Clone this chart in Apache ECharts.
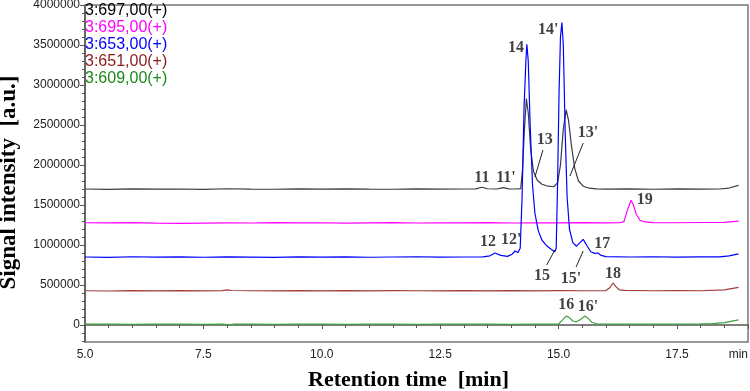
<!DOCTYPE html>
<html>
<head>
<meta charset="utf-8">
<script src="https://cdn.jsdelivr.net/npm/echarts@6/dist/echarts.min.js"></script>
<style>
html, body { margin: 0; padding: 0; background: #fff; }
#chart { width: 750px; height: 391px; }
</style>
</head>
<body>
<div id="chart"></div>
<script>
// trace names (m/z channels)
var traceNames = ['3:697,00(+)', '3:695,00(+)', '3:653,00(+)', '3:651,00(+)', '3:609,00(+)'];

// [retention time (min), signal]
var trace697 = [
  [5.0,1700000],[5.5,1695000],[6.0,1702000],[6.5,1698000],[7.0,1700000],[7.5,1696000],[8.0,1703000],
  [8.5,1699000],[9.0,1697000],[9.5,1701000],[10.0,1698000],[10.5,1702000],[11.0,1699000],[11.5,1697000],
  [12.0,1701000],[12.5,1698000],[13.0,1700000],[13.25,1702000],[13.38,1722000],[13.5,1703000],[13.7,1700000],
  [13.83,1718000],[13.95,1702000],[14.1,1700000],[14.2,1705000],[14.24,1950000],[14.28,2450000],[14.32,2830000],
  [14.36,2650000],[14.41,2200000],[14.47,1920000],[14.55,1810000],[14.65,1760000],[14.78,1735000],[14.9,1728000],
  [14.98,1780000],[15.04,2000000],[15.1,2450000],[15.16,2690000],[15.21,2560000],[15.27,2250000],[15.34,1960000],
  [15.42,1800000],[15.52,1735000],[15.65,1710000],[15.8,1702000],[16.0,1699000],[16.5,1702000],[17.0,1697000],
  [17.5,1701000],[18.0,1698000],[18.4,1700000],[18.6,1712000],[18.8,1745000]
];
var trace695 = [
  [5.0,1278000],[5.5,1276000],[6.0,1280000],[6.5,1274000],[7.0,1271000],[7.5,1274000],[8.0,1277000],
  [8.5,1275000],[9.0,1279000],[9.5,1276000],[10.0,1278000],[10.5,1274000],[11.0,1277000],[11.5,1280000],
  [12.0,1275000],[12.5,1278000],[13.0,1276000],[13.5,1279000],[14.0,1275000],[14.5,1278000],[15.0,1276000],
  [15.5,1280000],[16.0,1277000],[16.3,1278000],[16.38,1292000],[16.45,1430000],[16.53,1560000],[16.58,1500000],
  [16.64,1385000],[16.72,1310000],[16.82,1288000],[17.0,1280000],[17.5,1278000],[18.0,1281000],[18.5,1282000],
  [18.8,1298000]
];
var trace653 = [
  [5.0,850000],[5.5,846000],[6.0,853000],[6.5,848000],[7.0,851000],[7.5,847000],[8.0,852000],[8.5,849000],
  [9.0,846000],[9.5,851000],[10.0,848000],[10.5,852000],[11.0,847000],[11.5,850000],[12.0,853000],[12.5,848000],
  [13.0,850000],[13.4,852000],[13.55,865000],[13.66,900000],[13.78,870000],[13.92,858000],[14.02,885000],
  [14.08,925000],[14.14,905000],[14.19,960000],[14.23,1600000],[14.27,2700000],[14.31,3300000],[14.33,3510000],
  [14.36,3300000],[14.4,2500000],[14.45,1750000],[14.5,1400000],[14.57,1180000],[14.65,1060000],[14.75,990000],
  [14.85,945000],[14.92,915000],[14.95,960000],[14.98,1800000],[15.01,2900000],[15.04,3600000],[15.07,3780000],
  [15.1,3500000],[15.14,2400000],[15.18,1600000],[15.23,1200000],[15.3,1030000],[15.38,985000],[15.45,1030000],
  [15.52,1070000],[15.6,990000],[15.68,915000],[15.76,895000],[15.83,900000],[15.9,870000],[16.0,855000],
  [16.5,850000],[17.0,853000],[17.5,848000],[18.0,851000],[18.4,852000],[18.6,865000],[18.8,890000]
];
var trace651 = [
  [5.0,428000],[5.5,425000],[6.0,430000],[6.5,426000],[7.0,429000],[7.5,427000],[7.9,430000],[8.0,440000],
  [8.1,431000],[8.5,428000],[9.0,426000],[9.5,430000],[10.0,427000],[10.5,429000],[11.0,426000],[11.5,430000],
  [12.0,428000],[12.5,426000],[13.0,429000],[13.5,427000],[14.0,430000],[14.5,426000],[15.0,429000],[15.5,428000],
  [16.0,430000],[16.08,465000],[16.15,525000],[16.21,480000],[16.28,440000],[16.4,432000],[17.0,428000],
  [17.5,430000],[18.0,428000],[18.5,438000],[18.8,470000]
];
var trace609 = [
  [5.0,10000],[5.5,11000],[6.0,9000],[6.5,10000],[7.0,11000],[7.5,9000],[7.9,10000],[8.05,2000],[8.15,10000],
  [8.5,11000],[9.0,9000],[9.5,10000],[10.0,11000],[10.5,9000],[11.0,10000],[11.5,11000],[12.0,9000],[12.5,10000],
  [13.0,11000],[13.5,10000],[14.0,9000],[14.5,11000],[15.0,12000],[15.08,60000],[15.16,112000],[15.22,95000],
  [15.3,50000],[15.38,40000],[15.46,70000],[15.56,112000],[15.62,85000],[15.7,35000],[15.8,15000],[15.95,10000],
  [16.5,11000],[17.0,10000],[17.5,12000],[18.0,13000],[18.2,15000],[18.5,30000],[18.8,65000]
];

// peak labels and where they sit
var peakNames = ['11', "11'", '12', "12'", '13', "13'", '14', "14'", '15', "15'", '16', "16'", '17', '18', '19'];
var peakPos = [
  [13.38,1837500],[13.89,1837500],[13.51,1037500],[14.00,1062500],[14.71,2312500],[15.62,2400000],
  [14.10,3462500],[14.78,3687500],[14.65,612500],[15.26,575000],[15.16,250000],[15.62,225000],
  [15.92,1012500],[16.15,637500],[16.82,1562500]
];
// leader lines from labels to peaks
var leaders = [
  [[14.67,2187500],[14.50,1850000]],
  [[15.52,2275000],[15.24,1862500]],
  [[14.75,750000],[14.92,937500]],
  [[15.37,725000],[15.52,925000]]
];

// axis ticks
var xTicks = [5.0, 7.5, 10.0, 12.5, 15.0, 17.5];
var yTicks = [0, 500000, 1000000, 1500000, 2000000, 2500000, 3000000, 3500000, 4000000];

var lineColors = ['#3c3c3c', '#ff00ff', '#0000ff', '#a03c3c', '#3fa03f'];
var textColors = ['#000000', '#ff00ff', '#0000ff', '#8b1a1a', '#1a8a1a'];

var yMinor = [];
for (var v = -200000; v <= 4000000; v += 100000) {
  if (v % 500000 !== 0) yMinor.push(v);
}

var chart = echarts.init(document.getElementById('chart'));
var traces = [trace697, trace695, trace653, trace651, trace609];

var series = traces.map(function (d, i) {
  return {
    name: traceNames[i],
    type: 'line',
    data: d,
    showSymbol: false,
    symbol: 'none',
    lineStyle: { width: 1.2, color: lineColors[i] },
    itemStyle: { color: lineColors[i] },
    z: 2
  };
});

series.push({
  name: 'peaks',
  type: 'scatter',
  symbolSize: 1,
  itemStyle: { color: 'rgba(0,0,0,0)' },
  data: peakPos.map(function (p, i) { return { name: peakNames[i], value: p }; }),
  label: {
    show: true,
    position: 'inside',
    formatter: function (p) { return p.name; },
    color: '#111',
    fontFamily: 'Liberation Serif',
    fontWeight: 'bold',
    fontSize: 16
  },
  markLine: {
    silent: true,
    symbol: 'none',
    label: { show: false },
    lineStyle: { color: '#222', width: 1, type: 'solid' },
    data: leaders.map(function (l) { return [{ coord: l[0] }, { coord: l[1] }]; })
  },
  z: 3
});

var option = {
  animation: false,
  grid: {
    left: 85, right: 2, top: 5, bottom: 49,
    containLabel: false,
    outerBoundsMode: 'none',
    show: true, borderColor: '#777', borderWidth: 1.5
  },
  legend: {
    orient: 'vertical',
    left: 80,
    top: 2,
    icon: 'none',
    itemWidth: 0,
    itemHeight: 0,
    itemGap: 0,
    padding: 0,
    data: traceNames.map(function (n, i) {
      return { name: n, textStyle: { color: textColors[i] } };
    }),
    textStyle: { fontFamily: 'Liberation Sans', fontSize: 16, lineHeight: 17, padding: 0 }
  },
  xAxis: {
    type: 'value',
    min: 5,
    max: 19,
    interval: 2.5,
    name: 'Retention time  [min]',
    nameLocation: 'middle',
    nameGap: 27,
    nameTextStyle: {
      fontFamily: 'Liberation Serif', fontWeight: 'bold', fontSize: 22, color: '#000',
      padding: [0, 16, 0, 0]
    },
    axisLine: { lineStyle: { color: '#555', width: 1.5 } },
    axisTick: { length: 4, lineStyle: { color: '#555' } },
    minorTick: { show: true, splitNumber: 5, length: 3, lineStyle: { color: '#555' } },
    splitLine: { show: false },
    axisLabel: {
      color: '#222',
      fontFamily: 'Liberation Sans',
      fontSize: 12,
      margin: 7,
      showMaxLabel: true,
      alignMaxLabel: 'right',
      formatter: function (v) {
        if (xTicks.indexOf(v) < 0) return 'min';
        return v.toFixed(1);
      }
    }
  },
  yAxis: [{
    type: 'value',
    min: -212500,
    max: 4000000,
    name: 'Signal intensity  [a.u.]',
    nameLocation: 'middle',
    nameGap: 64,
    nameTextStyle: {
      fontFamily: 'Liberation Serif', fontWeight: 'bold', fontSize: 23, color: '#000',
      padding: [0, 18, 0, 0]
    },
    axisLine: { show: true, lineStyle: { color: '#555', width: 1.5 } },
    axisTick: { show: true, length: 5, customValues: yTicks, lineStyle: { color: '#555' } },
    splitLine: { show: false },
    axisLabel: {
      customValues: yTicks,
      color: '#222',
      fontFamily: 'Liberation Sans',
      fontSize: 12,
      margin: 5,
      formatter: function (v) { return String(v); }
    }
  }, {
    // minor ticks only
    type: 'value',
    position: 'left',
    min: -212500,
    max: 4000000,
    axisLine: { show: false },
    axisTick: { show: true, length: 3, customValues: yMinor, lineStyle: { color: '#555' } },
    axisLabel: { show: false },
    splitLine: { show: false }
  }],
  series: series
};
chart.setOption(option);
</script>
</body>
</html>
